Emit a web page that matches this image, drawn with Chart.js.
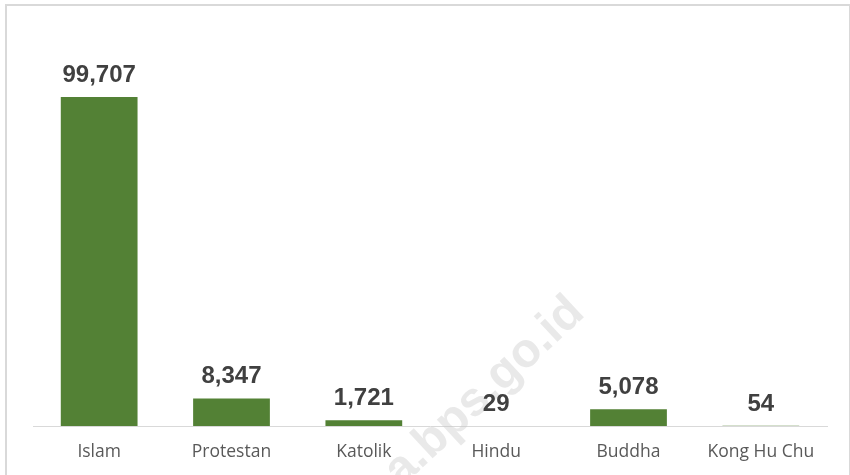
<!DOCTYPE html>
<html>
<head>
<meta charset="utf-8">
<script src="https://cdn.jsdelivr.net/npm/chart.js@4/dist/chart.umd.min.js"></script>
<style>
  body { margin: 0; background: #fff; }
  #frame { position: absolute; left: 5px; top: 4px; width: 842px; height: 500px; border: 2px solid #d9d9d9; }
  #agamaChart { position: absolute; left: 0; top: 0; }
</style>
</head>
<body>
<div id="frame"></div>
<canvas id="agamaChart" width="850" height="475"></canvas>
<script>
const categories = ["Islam", "Protestan", "Katolik", "Hindu", "Buddha", "Kong Hu Chu"];
const penganut = [99707, 8347, 1721, 29, 5078, 54];

// value labels above each bar
const valueLabels = {
  id: 'valueLabels',
  afterDatasetsDraw(chart) {
    const ctx = chart.ctx;
    const meta = chart.getDatasetMeta(0);
    ctx.save();
    ctx.font = "bold 24px 'Liberation Sans', Arial, sans-serif";
    ctx.fillStyle = "#404040";
    ctx.textAlign = "center";
    ctx.textBaseline = "alphabetic";
    meta.data.forEach((bar, i) => {
      ctx.fillText(penganut[i].toLocaleString('en-US'), bar.x, bar.y - 15);
    });
    ctx.restore();
  }
};

// faint source watermark
const watermark = {
  id: 'watermark',
  beforeDatasetsDraw(chart) {
    const ctx = chart.ctx;
    ctx.save();
    ctx.translate(392, 478);
    ctx.rotate(-43 * Math.PI / 180);
    ctx.font = "bold 48px 'Liberation Sans', Arial, sans-serif";
    ctx.fillStyle = "rgba(200, 200, 200, 0.4)";
    ctx.textAlign = "left";
    ctx.textBaseline = "middle";
    ctx.fillText("a.bps.go.id", 0, 0);
    ctx.restore();
  }
};

new Chart(document.getElementById('agamaChart'), {
  type: 'bar',
  data: {
    labels: categories,
    datasets: [{
      data: penganut,
      backgroundColor: '#538135',
      borderWidth: 0,
      barPercentage: 0.58,
      categoryPercentage: 1.0
    }]
  },
  options: {
    responsive: false,
    animation: false,
    layout: { padding: { left: 33, right: 23, top: 63, bottom: 4 } },
    plugins: {
      legend: { display: false },
      tooltip: { enabled: false }
    },
    scales: {
      x: {
        grid: { display: false },
        border: { display: true, color: '#d9d9d9', width: 1 },
        ticks: {
          color: '#595959',
          padding: 8,
          font: { family: "'Open Sans', sans-serif", size: 17.5 }
        }
      },
      y: {
        display: false,
        min: 0,
        max: 110000
      }
    }
  },
  plugins: [watermark, valueLabels]
});
</script>
</body>
</html>
